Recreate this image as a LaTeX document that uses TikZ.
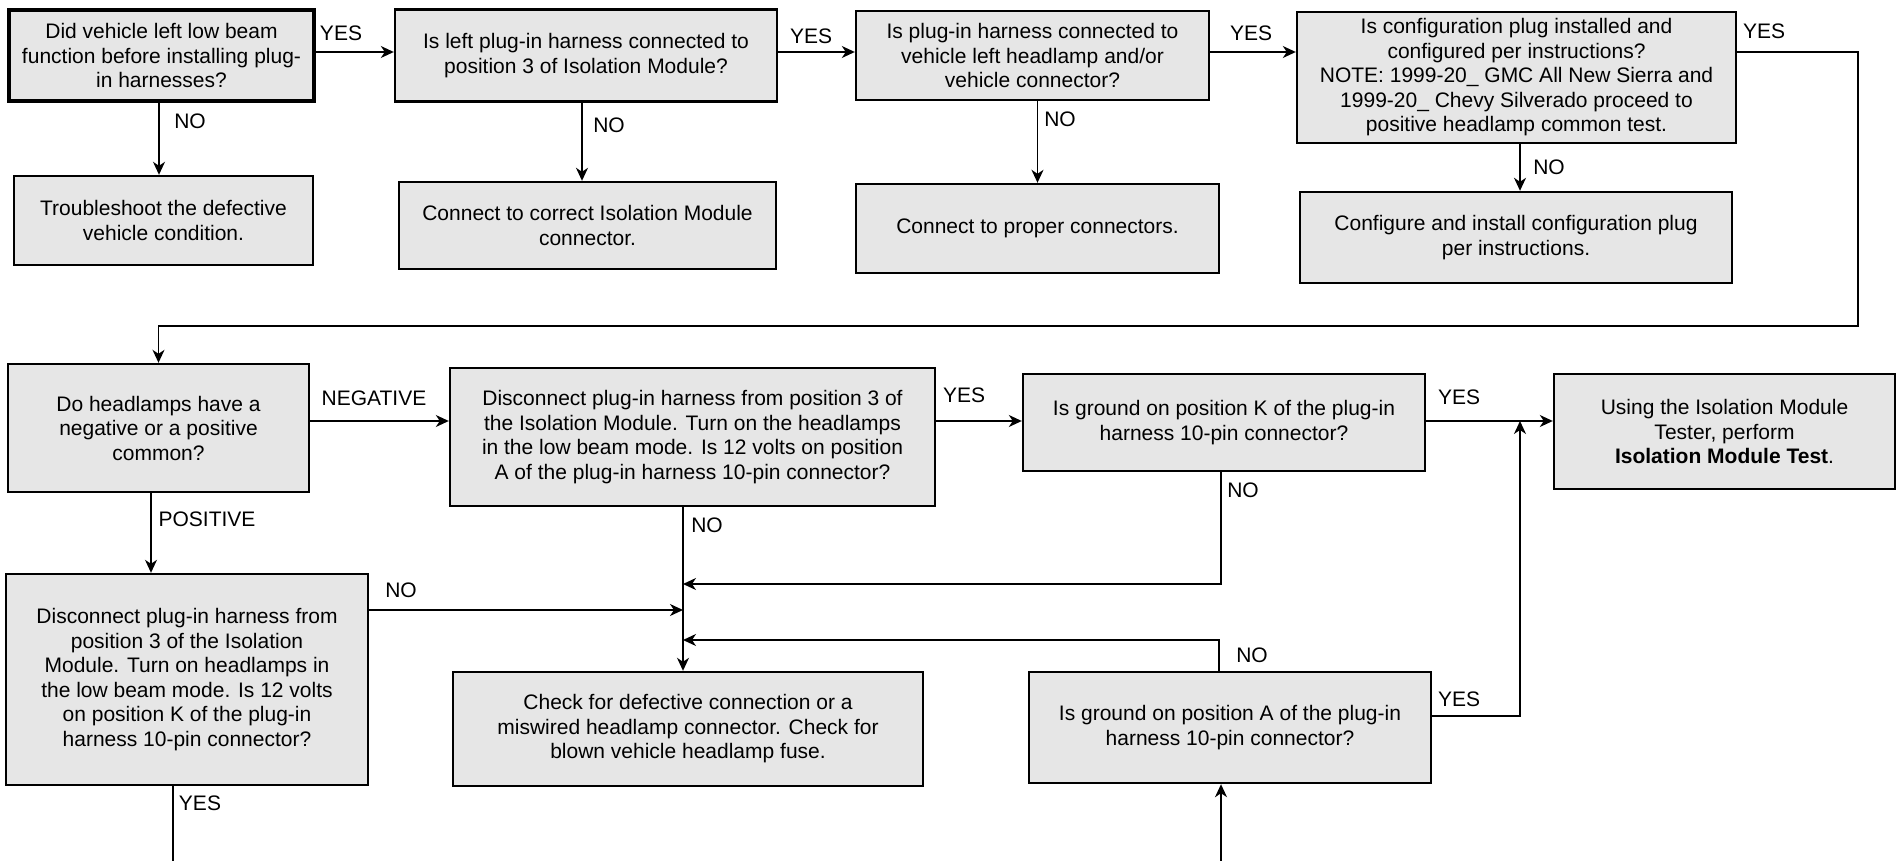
\documentclass[tikz,border=0pt]{standalone}
\usepackage{fontspec}
\setmainfont{Liberation Sans}
\usepackage{tikz}
\usetikzlibrary{arrows.meta}
\definecolor{boxgray}{RGB}{230,230,230}

\begin{document}
\begin{tikzpicture}[x=1pt, y=-1pt,
      font=\fontsize{21pt}{24.5pt}\selectfont,
      blk/.style={rectangle, draw=black, fill=boxgray, line width=2.4pt,
                  align=center, inner sep=0pt},
      lbl/.style={inner sep=1pt},
      con/.style={-{Stealth[length=13pt, width=12pt, inset=4pt]},
                  line width=1.5pt}]
    \useasboundingbox (0,0) rectangle (1900,861);
    % first row: questions
    \node[blk, line width=3.2pt, minimum width=305pt, minimum height=91pt] (b1) at (161.5,55.5)
      {Did vehicle left low beam\\function before installing plug-\\in harnesses?};
    \node[blk, minimum width=382pt, minimum height=92pt] (b2) at (586,55.5)
      {Is left plug-in harness connected to\\position 3 of Isolation Module?};
    \node[blk, minimum width=353pt, minimum height=89pt] (b3) at (1032.5,55.5)
      {Is plug-in harness connected to\\vehicle left headlamp and/or\\vehicle connector?};
    \node[blk, minimum width=439pt, minimum height=131pt] (b4) at (1516.5,77.5)
      {Is configuration plug installed and\\configured per instructions?\\NOTE: 1999-20\_ GMC All New Sierra and\\1999-20\_ Chevy Silverado proceed to\\positive headlamp common test.};
    % first row: actions
    \node[blk, minimum width=299pt, minimum height=89pt] (t1) at (163.5,220.5)
      {Troubleshoot the defective\\vehicle condition.};
    \node[blk, minimum width=377pt, minimum height=87pt] (t2) at (587.5,225.5)
      {Connect to correct Isolation Module\\connector.};
    \node[blk, minimum width=363pt, minimum height=89pt] (t3) at (1037.5,228.5)
      {Connect to proper connectors.};
    \node[blk, minimum width=432pt, minimum height=91pt] (t4) at (1516,237.5)
      {Configure and install configuration plug\\per instructions.};
    % second part
    \node[blk, minimum width=301pt, minimum height=128pt] (q5) at (158.5,428)
      {Do headlamps have a\\negative or a positive\\common?};
    \node[blk, minimum width=485pt, minimum height=138pt] (q6) at (692.5,437)
      {Disconnect plug-in harness from position 3 of\\the Isolation Module. Turn on the headlamps\\in the low beam mode. Is 12 volts on position\\A of the plug-in harness 10-pin connector?};
    \node[blk, minimum width=362pt, minimum height=211pt] (q7) at (187,679.5)
      {Disconnect plug-in harness from\\position 3 of the Isolation\\Module. Turn on headlamps in\\the low beam mode. Is 12 volts\\on position K of the plug-in\\harness 10-pin connector?};
    \node[blk, minimum width=470pt, minimum height=114pt] (t8) at (688,729)
      {Check for defective connection or a\\miswired headlamp connector. Check for\\blown vehicle headlamp fuse.};
    \node[blk, minimum width=402pt, minimum height=97pt] (q9) at (1224,422.5)
      {Is ground on position K of the plug-in\\harness 10-pin connector?};
    \node[blk, minimum width=402pt, minimum height=111pt] (q10) at (1230,727.5)
      {Is ground on position A of the plug-in\\harness 10-pin connector?};
    \node[blk, minimum width=341pt, minimum height=115pt] (t11) at (1724.5,431.5)
      {Using the Isolation Module\\Tester, perform\\\textbf{Isolation Module Test}.};
    % bends and joins
    \coordinate (row) at (0,52);
    \coordinate (turn) at (1858,326);
    \coordinate (jk) at (683,584);
    \coordinate (jp) at (683,610);
    \coordinate (ja) at (683,640);
    \coordinate (jt) at (1520,421);
    \coordinate (outK) at (173,861);
    \coordinate (inA) at (1221,861);
    % connectors
    \draw[con] (b1.east |- row) -- (b2.west |- row);
    \draw[con] (b2.east |- row) -- (b3.west |- row);
    \draw[con] (b3.east |- row) -- (b4.west |- row);
    \draw[con] (b4.east |- row) -- (turn |- row) -- (turn) -| (q5);
    \draw[con] ([xshift=-2.5pt]b1.south) -- ([xshift=-2.5pt]b1.south |- t1.north);
    \draw[con] ([xshift=-4pt]b2.south) -- ([xshift=-4pt]b2.south |- t2.north);
    \draw[con] (t3.north |- b3.south) -- (t3.north);
    \draw[con] ([xshift=3.5pt]b4.south) -- ([xshift=3.5pt]b4.south |- t4.north);
    \draw[con] (q5.east |- jt) -- (q6.west |- jt);
    \draw[con] (q6.east |- jt) -- (q9.west |- jt);
    \draw[con] (q9.east |- jt) -- (t11.west |- jt);
    \draw[con] ([xshift=-7.5pt]q5.south) -- ([xshift=-7.5pt]q5.south |- q7.north);
    \draw[con] (q7.east |- jp) -- (jp);
    \draw[con] (jp |- q6.south) -- (jp |- t8.north);
    \draw[con] ([xshift=-3pt]q9.south) |- (jk);
    \draw[con] ([xshift=-11pt]q10.north) |- (ja);
    \draw[con] ([yshift=11.5pt]q10.east) -| (jt);
    \draw[line width=1.5pt] (q7.south -| outK) -- (outK);
    \draw[con] (inA) -- (inA |- q10.south);
    % labels
    \node[lbl] (yes1) at (341,33) {YES};
    \node[lbl] (yes2) at (811,36) {YES};
    \node[lbl] (yes3) at (1251,33) {YES};
    \node[lbl] (yes4) at (1764,31) {YES};
    \node[lbl] (no1) at (190,121) {NO};
    \node[lbl] (no2) at (609,125) {NO};
    \node[lbl] (no3) at (1060,119) {NO};
    \node[lbl] (no4) at (1549,167) {NO};
    \node[lbl] (neg) at (374,398) {NEGATIVE};
    \node[lbl] (pos) at (207,519) {POSITIVE};
    \node[lbl] (no5) at (401,590) {NO};
    \node[lbl] (no6) at (707,525) {NO};
    \node[lbl] (yes5) at (200,803) {YES};
    \node[lbl] (yes6) at (964,395) {YES};
    \node[lbl] (yes7) at (1459,397) {YES};
    \node[lbl] (no7) at (1243,490) {NO};
    \node[lbl] (no8) at (1252,655) {NO};
    \node[lbl] (yes8) at (1459,699) {YES};
  \end{tikzpicture}
\end{document}
